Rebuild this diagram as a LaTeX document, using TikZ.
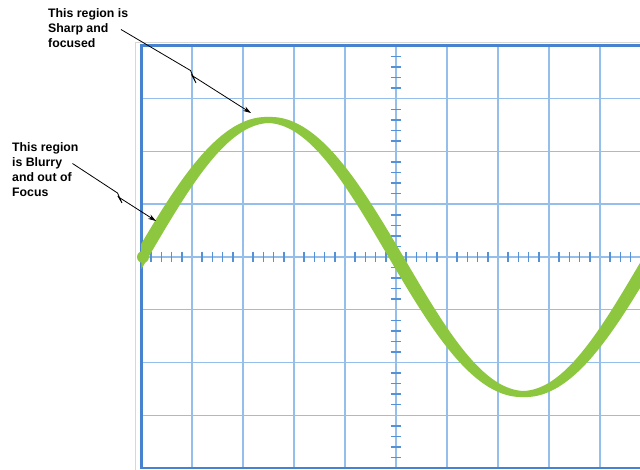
\documentclass[tikz,border=0pt]{standalone}
\usepackage{fontspec}
\setmainfont{Liberation Sans}
\usetikzlibrary{arrows.meta}
\definecolor{gridblue}{RGB}{150,190,235}
\definecolor{borderblue}{RGB}{70,130,205}
\definecolor{tickblue}{RGB}{85,145,215}
\definecolor{wavegreen}{RGB}{141,198,63}
\definecolor{framegray}{RGB}{215,215,215}
\begin{document}
\begin{tikzpicture}[x=1pt,y=-1pt,
  gridline/.style={gridblue,line width=1.5pt},
  tickline/.style={tickblue,line width=1.5pt},
  borderline/.style={borderblue,line width=3pt},
  lbl/.style={font=\bfseries\fontsize{12.3}{14.8}\selectfont,align=left,inner sep=0pt,anchor=north west},
  pointer/.style={black,line width=0.8pt,line join=miter,-{Stealth[length=8pt,width=5pt]}}
]
\clip (0,0) rectangle (640,470);
\fill[white] (0,0) rectangle (640,470);
% outer frame
\draw[framegray,line width=1pt] (135,472) -- (135,43) -- (645,43);
% grid
\foreach \i in {1,...,9} \draw[gridline] ({141+51*\i},46) -- ({141+51*\i},468);
\foreach \j in {1,...,7} \draw[gridline] (141,{46+52.75*\j}) -- (645,{46+52.75*\j});
% ticks on axes
\foreach \k in {1,...,49}{
  \pgfmathtruncatemacro\m{mod(\k,5)}
  \ifnum\m>0 \draw[tickline] ({141+10.2*\k},251.7) -- ({141+10.2*\k},262.3);\fi}
\foreach \k in {1,...,39}{
  \pgfmathtruncatemacro\m{mod(\k,5)}
  \ifnum\m>0 \draw[tickline] (390.7,{46+10.55*\k}) -- (401.3,{46+10.55*\k});\fi}
% borders
\draw[borderblue,line width=2pt] (141,468) -- (645,468);
\draw[borderline] (141,469) -- (141,46) -- (645,46);
% wave
\fill[wavegreen] plot[domain=0:2.0,samples=220,variable=\x]
   ({141+255*\x},{257-137*sin(180*\x)-(3+3.5*abs(cos(180*\x)))*sqrt(1+2.85*cos(180*\x)*cos(180*\x))})
  -- plot[domain=2.0:0,samples=220,variable=\x]
   ({141+255*\x},{257-137*sin(180*\x)+(3+3.5*abs(cos(180*\x)))*sqrt(1+2.85*cos(180*\x)*cos(180*\x))}) -- cycle;
\fill[wavegreen] (143,257) circle (6pt);
% labels
\node[lbl] (sharp) at (48,8.4) {This region is\\Sharp and\\focused};
\node[lbl] (blurry) at (12,142.8) {This region\\is Blurry\\and out of\\Focus};
% pointers
\coordinate (s1) at (121,29.5);
\coordinate (z1a) at (190.5,70.5);
\coordinate (z1b) at (196,83);
\coordinate (z1c) at (192,75.5);
\coordinate (e1) at (251,113);
\coordinate (s2) at (72.5,163.5);
\coordinate (z2a) at (117.5,193);
\coordinate (z2b) at (122,203);
\coordinate (z2c) at (118.5,197);
\coordinate (e2) at (156,221);
\draw[pointer] (s1) -- (z1a) -- (z1b) -- (z1c) -- (e1);
\draw[pointer] (s2) -- (z2a) -- (z2b) -- (z2c) -- (e2);
\end{tikzpicture}
\end{document}
